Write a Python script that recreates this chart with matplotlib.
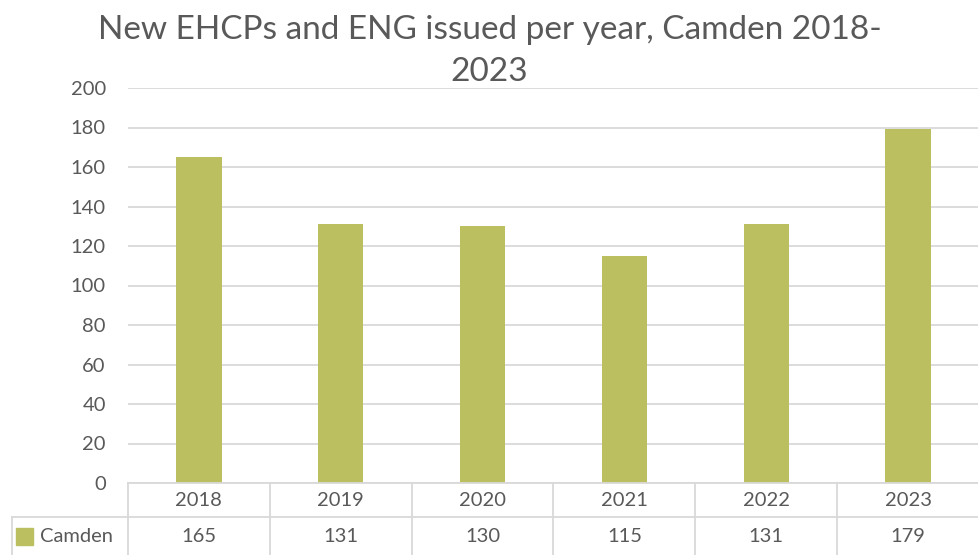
import matplotlib.pyplot as plt
from matplotlib.transforms import blended_transform_factory

years = ['2018', '2019', '2020', '2021', '2022', '2023']
camden = [165, 131, 130, 115, 131, 179]
series_name = 'Camden'
title_lines = ['New EHCPs and ENG issued per year, Camden 2018-', '2023']

bar_col = '#BBBF5F'
grid_col = '#D9D9D9'
txt_col = '#595959'

plt.rcParams['font.family'] = ['Lato', 'DejaVu Sans']

W, H = 979, 555
fig = plt.figure(figsize=(W / 100, H / 100), dpi=100)
ax = fig.add_axes([128 / W, (H - 483) / H, (W - 128) / W, (483 - 88) / H])

x = list(range(len(years)))
ax.bar(x, camden, width=0.32, color=bar_col, zorder=3)
ax.set_xlim(-0.5, len(years) - 0.5)
ax.set_ylim(0, 200)
ax.set_yticks(range(0, 201, 20))
ax.tick_params(axis='y', length=0, pad=16, labelsize=14.5, labelcolor=txt_col)
ax.tick_params(axis='x', length=0, labelbottom=False)
ax.yaxis.grid(True, color=grid_col, linewidth=1.3)
ax.set_axisbelow(True)
for s in ax.spines.values():
    s.set_visible(False)

# data table below the plot
trans = blended_transform_factory(ax.transData, fig.transFigure)
ax_left = 128 / W
y_top = (H - 483) / H
y_mid = (H - 517) / H
y_bot = 0.0
line_kw = dict(color=grid_col, linewidth=1.3, clip_on=False)

fig.add_artist(plt.Line2D([ax_left, 1], [y_top, y_top], transform=fig.transFigure, **line_kw))
fig.add_artist(plt.Line2D([12 / W, 1], [y_mid, y_mid], transform=fig.transFigure, **line_kw))
fig.add_artist(plt.Line2D([12 / W, 12 / W], [y_mid, y_bot], transform=fig.transFigure, **line_kw))
for i in range(len(years) + 1):
    b = i - 0.5
    fig.add_artist(plt.Line2D([b, b], [y_top, y_bot], transform=trans, **line_kw))

for i, (yr, v) in enumerate(zip(years, camden)):
    fig.text(i, (y_top + y_mid) / 2, yr, transform=trans, ha='center', va='center',
             fontsize=14.5, color=txt_col)
    fig.text(i, (y_mid + y_bot) / 2, str(v), transform=trans, ha='center', va='center',
             fontsize=14.5, color=txt_col)

# legend key in the row header
fig.add_artist(plt.Rectangle((16 / W, (H - 545) / H), 17 / W, 17 / H,
                             transform=fig.transFigure, color=bar_col))
fig.text(40 / W, (y_mid + y_bot) / 2, series_name, ha='left', va='center',
         fontsize=14.5, color=txt_col)

fig.text(0.5, (H - 30) / H, title_lines[0], ha='center', va='center', fontsize=24, color=txt_col)
fig.text(0.5, (H - 72) / H, title_lines[1], ha='center', va='center', fontsize=24, color=txt_col)

fig.savefig('out.png', dpi=100)
